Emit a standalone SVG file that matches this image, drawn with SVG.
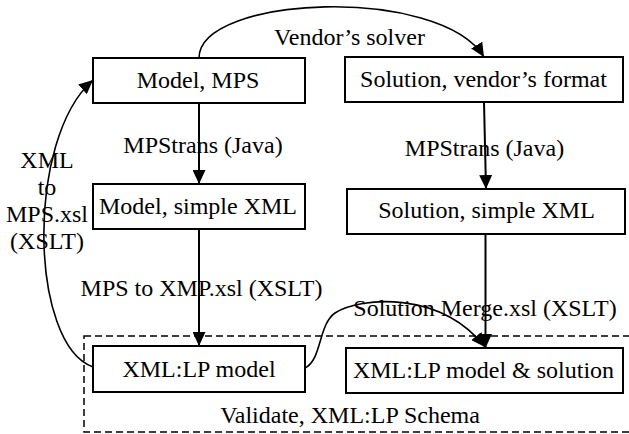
<svg xmlns="http://www.w3.org/2000/svg" width="629" height="434" viewBox="0 0 629 434">
<defs>
<marker id="ah" markerUnits="userSpaceOnUse" markerWidth="14" markerHeight="13" refX="14" refY="6.5" orient="auto">
<path d="M0,0 L14,6.5 L0,13 z" fill="#000"/>
</marker>
<style>
.box{fill:#fff;stroke:#000;stroke-width:2}
.t{font-family:"Liberation Serif","Times New Roman",serif;font-size:24px;fill:#000;text-anchor:middle}
.e{fill:none;stroke:#000;stroke-width:2}
.c{fill:none;stroke:#000;stroke-width:1.6}
.dash{fill:none;stroke:#000;stroke-width:1.5;stroke-dasharray:7 4}
</style>
</defs>
<rect width="629" height="434" fill="#fff"/>
<g id="validate">
<rect class="dash" x="84" y="336" width="560" height="96"/>
<text class="t" x="350" y="423">Validate, XML:LP Schema</text>
</g>
<g id="connectors">
<line class="e" x1="199" y1="103" x2="199" y2="184" marker-end="url(#ah)"/>
<line class="e" x1="484" y1="102" x2="486" y2="189" marker-end="url(#ah)"/>
<line class="e" x1="199" y1="229" x2="199" y2="346" marker-end="url(#ah)"/>
<line class="e" x1="485.5" y1="234" x2="485.5" y2="348" marker-end="url(#ah)"/>
<path class="c" d="M199,58 C199,-5 440,-15 484,57" marker-end="url(#ah)"/>
<path class="c" d="M93,367 C30,345 25,140 93,80" marker-end="url(#ah)"/>
<path class="c" d="M305,368 C322,360 318,325 335,313 C360,297 440,290 485,347" marker-end="url(#ah)"/>
<text class="t" x="349.5" y="45">Vendor’s solver</text>
<text class="t" x="203" y="153">MPStrans (Java)</text>
<text class="t" x="484.5" y="156">MPStrans (Java)</text>
<text class="t" x="201.5" y="296">MPS to XMP.xsl (XSLT)</text>
<text class="t" x="485" y="316">Solution Merge.xsl (XSLT)</text>
<text class="t" x="47" y="168">XML</text>
<text class="t" x="47" y="195">to</text>
<text class="t" x="47" y="222">MPS.xsl</text>
<text class="t" x="47" y="249">(XSLT)</text>
</g>
<g id="model-mps">
<rect class="box" x="93" y="58" width="212" height="45"/>
<text class="t" x="198" y="88">Model, MPS</text>
</g>
<g id="solution-vendor">
<rect class="box" x="345" y="57" width="278" height="45"/>
<text class="t" x="483.5" y="87">Solution, vendor’s format</text>
</g>
<g id="model-simple-xml">
<rect class="box" x="93" y="184" width="212" height="45"/>
<text class="t" x="198" y="214">Model, simple XML</text>
</g>
<g id="solution-simple-xml">
<rect class="box" x="347" y="189" width="278" height="45"/>
<text class="t" x="486.5" y="218">Solution, simple XML</text>
</g>
<g id="xmllp-model">
<rect class="box" x="93" y="346" width="212" height="46"/>
<text class="t" x="199" y="377">XML:LP model</text>
</g>
<g id="xmllp-model-solution">
<rect class="box" x="346" y="348" width="277" height="45"/>
<text class="t" x="483.5" y="378">XML:LP model &amp; solution</text>
</g>
</svg>
